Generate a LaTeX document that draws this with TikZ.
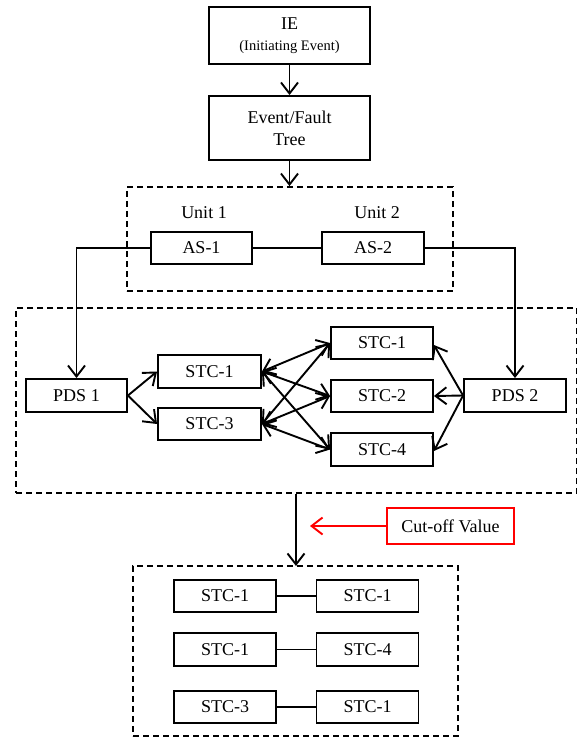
\documentclass[tikz,border=0pt]{standalone}
\usepackage{fontspec}
\setmainfont{Liberation Serif}
\usetikzlibrary{arrows.meta}
\begin{document}
\begin{tikzpicture}[x=1pt,y=-1pt,
  box/.style={draw,line width=1.9pt,inner sep=0pt,minimum width=102pt,minimum height=32pt,font=\fontsize{18}{22}\selectfont,align=center},
  grp/.style={draw,dashed,dash pattern=on 6pt off 4pt,line width=1.8pt,inner sep=0pt},
  lbl/.style={inner sep=0pt,font=\fontsize{18}{22}\selectfont},
  conn/.style={line width=1.9pt},
  tip/.tip={Straight Barb[length=11pt,width=17pt,line width=1.9pt]},
  arr/.style={conn,-tip},
  darr/.style={conn,tip-tip}
]
\useasboundingbox (0,0) rectangle (577,738);
% top
\node[box,minimum width=161pt,minimum height=57pt,font=\fontsize{18}{23}\selectfont] (ie) at (289.5,35.5) {IE\\[-2pt]{\fontsize{14.5}{16}\selectfont(Initiating Event)}};
\node[box,minimum width=161pt,minimum height=64pt] (eft) at (289.5,128) {Event/Fault\\Tree};
% group 1
\node[grp,minimum width=326pt,minimum height=104pt] (g1) at (290,239) {};
\node[lbl] (u1) at (204,213) {Unit 1};
\node[lbl] (u2) at (377,213) {Unit 2};
\node[box,minimum width=101pt] (as1) at (201.5,248) {AS-1};
\node[box] (as2) at (373,248) {AS-2};
% group 2
\node[grp,minimum width=561pt,minimum height=185pt] (g2) at (296.5,400.5) {};
\node[box,minimum width=101pt,minimum height=33pt] (pds1) at (76.5,395.5) {PDS 1};
\node[box,minimum height=33pt] (pds2) at (515,395.5) {PDS 2};
\node[box,minimum width=103pt,minimum height=33pt] (l1) at (209.5,371.5) {STC-1};
\node[box,minimum width=103pt] (l3) at (209.5,424) {STC-3};
\node[box] (r1) at (382,343) {STC-1};
\node[box] (r2) at (382,396) {STC-2};
\node[box,minimum height=33pt] (r4) at (382,449.5) {STC-4};
% cut-off
\node[draw=red,line width=1.9pt,minimum width=127pt,minimum height=36pt,inner sep=0pt,font=\fontsize{18}{22}\selectfont] (cut) at (450.5,526) {Cut-off Value};
\coordinate (cutend) at (310,526);
% group 3
\node[grp,minimum width=325pt,minimum height=170pt] (g3) at (295.5,651) {};
\node[box] (a1) at (225,596) {STC-1};
\node[box] (b1) at (367.5,596) {STC-1};
\node[box,minimum height=33pt] (a2) at (225,649.5) {STC-1};
\node[box,minimum height=33pt] (b2) at (367.5,649.5) {STC-4};
\node[box] (a3) at (225,707) {STC-3};
\node[box] (b3) at (367.5,707) {STC-1};
% connectors
\draw[arr] (ie.south) -- (eft.north);
\draw[arr] (eft.south) -- (eft.south |- g1.north);
\draw[conn] (as1.east) -- (as2.west);
\draw[arr] (as1.west) -| (pds1.north);
\draw[arr] (as2.east) -| (pds2.north);
\draw[arr] (pds1.east) -- (l1.west);
\draw[arr] (pds1.east) -- (l3.west);
\draw[arr] (pds2.west) -- ([yshift=-2pt]r1.east);
\draw[arr] (pds2.west) -- (r2.east);
\draw[arr] (pds2.west) -- ([yshift=-1.5pt]r4.east);
\foreach \s in {l1,l3}{
  \foreach \t in {r1,r2,r4}{
    \draw[darr] (\s.east) -- (\t.west);
  }
}
\draw[arr] (g2.south -| 296,0) -- (296,566);
\draw[arr,red] (cut.west) -- (cutend);
\draw[conn] (a1.east) -- (b1.west);
\draw[conn] (a2.east) -- (b2.west);
\draw[conn] (a3.east) -- (b3.west);
\end{tikzpicture}
\end{document}
